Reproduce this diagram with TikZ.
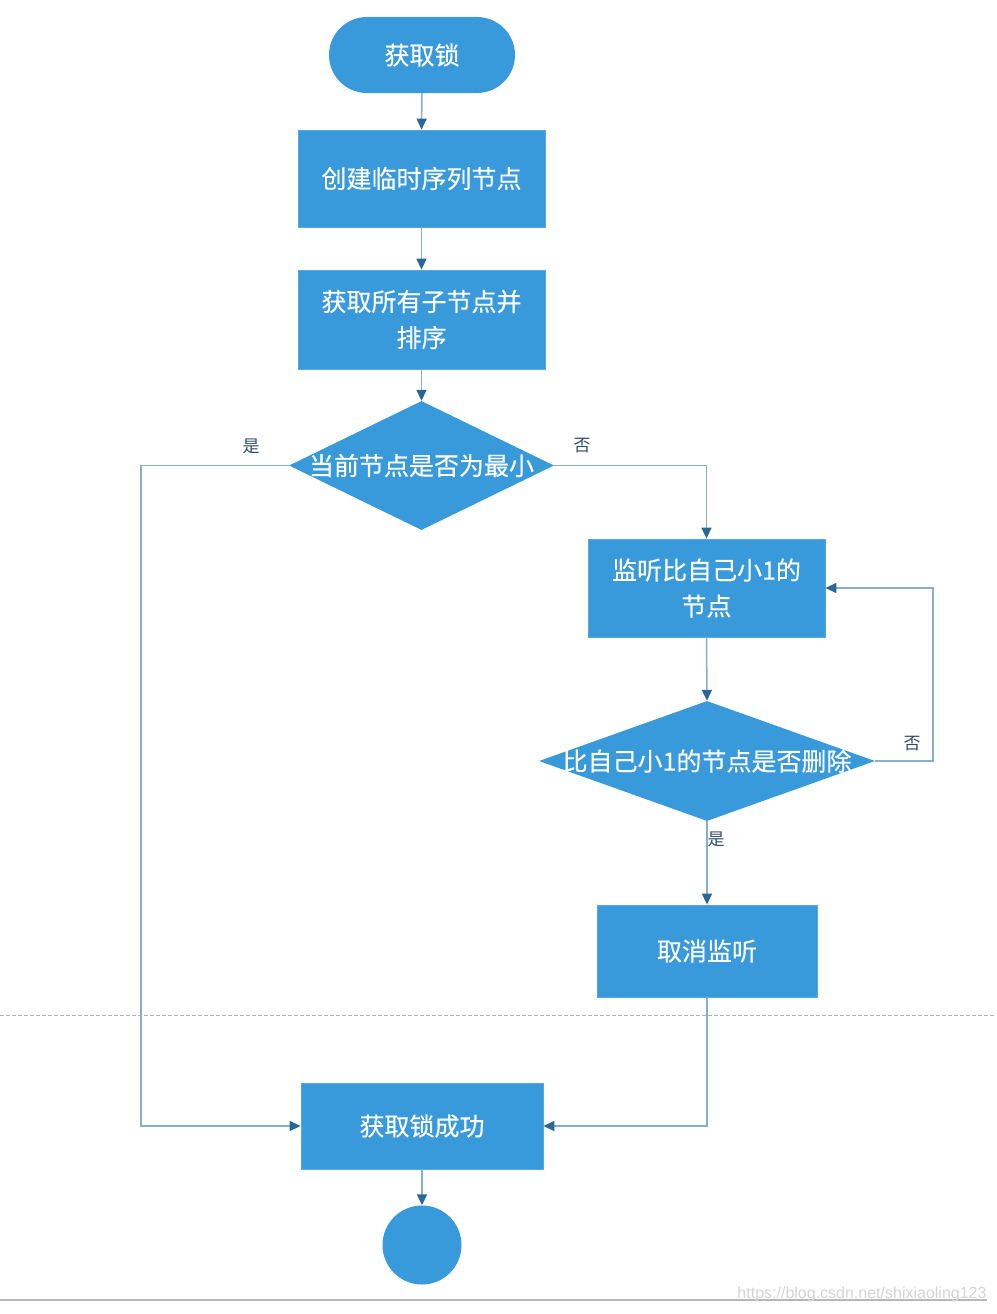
\documentclass[tikz,border=0pt]{standalone}
\usepackage{fontspec}
\newfontfamily\cjk{Noto Sans CJK SC}
\newfontfamily\cjkb[FakeBold=0.35]{Noto Sans CJK SC}
\newfontfamily\wmfont{Liberation Sans}
\usetikzlibrary{arrows.meta,shapes.geometric}
\definecolor{boxfill}{HTML}{3899DB}
\definecolor{linec}{HTML}{86AECF}
\definecolor{arrowc}{HTML}{2A6799}
\definecolor{labc}{HTML}{2E4B66}
\tikzset{
  stepbox/.style={rectangle, fill=boxfill, draw=boxfill!85!white, line width=0.8pt, inner sep=0pt, text=white, font=\cjkb\fontsize{25}{36}\selectfont, align=center},
  termbox/.style={rectangle, rounded corners=38pt, fill=boxfill, draw=none, inner sep=0pt, text=white, font=\cjkb\fontsize{25}{36}\selectfont, minimum width=186pt, minimum height=76pt},
  decbox/.style={diamond, fill=boxfill, draw=none, inner sep=0pt},
  dectext/.style={text=white, font=\cjkb\fontsize{25}{36}\selectfont, inner sep=0pt},
  conn/.style={draw=linec, line width=1.5pt, -{Triangle[length=11pt,width=10pt,color=arrowc]}},
  lab/.style={text=labc, font=\cjk\fontsize{17}{20}\selectfont, inner sep=0pt},
}
\begin{document}
\begin{tikzpicture}[x=1pt,y=-1pt]
\useasboundingbox (0,0) rectangle (996,1314);
% separators
\draw[draw=black!30, line width=1pt, dash pattern=on 4pt off 2pt] (0,1015) -- (996,1015);
\draw[draw=black!28, line width=1.5pt] (0,1300) -- (987,1300);
\node[text=black!17, font=\wmfont\fontsize{16}{18}\selectfont, inner sep=0pt] (wm) at (862,1294) {https://blog.csdn.net/shixiaoling123};

% nodes
\node[termbox] (start) at (422,55) {获取锁};
\node[stepbox, minimum width=247pt, minimum height=97pt] (b1) at (421.5,178.5) {创建临时序列节点};
\node[stepbox, minimum width=247pt, minimum height=99pt] (b2) at (421.5,319.5) {获取所有子节点并\\排序};
\node[decbox, minimum width=265pt, minimum height=129pt] (d1) at (421.5,465.5) {};
\node[dectext] (d1t) at (d1.center) {当前节点是否为最小};
\node[stepbox, minimum width=237pt, minimum height=98pt] (b3) at (706.5,588) {监听比自己小1的\\节点};
\node[decbox, minimum width=336pt, minimum height=120pt] (d2) at (707,761) {};
\node[dectext] (d2t) at (d2.center) {比自己小1的节点是否删除};
\node[stepbox, minimum width=220pt, minimum height=92pt] (b4) at (707,951) {取消监听};
\node[stepbox, minimum width=242pt, minimum height=86pt] (fin) at (422,1126) {获取锁成功};
\node[circle, fill=boxfill, draw=none, minimum size=79pt, inner sep=0pt] (end) at (422,1245) {};

% connectors
\draw[conn] (start.south) -- (b1.north);
\draw[conn] (b1.south) -- (b2.north);
\draw[conn] (b2.south) -- (d1.north);
\coordinate (cl) at (141,465.5);
\draw[conn] (d1.west) -- (cl) |- (fin.west);
\draw[conn] (d1.east) -| (b3.north);
\draw[conn] (b3.south) -- (d2.north);
\coordinate (cr) at (933,761);
\draw[conn] (d2.east) -- (cr) |- (b3.east);
\draw[conn] (d2.south) -- (b4.north);
\draw[conn] (b4.south) |- (fin.east);
\draw[conn] (fin.south) -- (end.north);

% labels
\node[lab] (l1) at (251,446) {是};
\node[lab] (l2) at (582,446) {否};
\node[lab] (l3) at (912,744) {否};
\node[lab] (l4) at (716,839) {是};
\end{tikzpicture}
\end{document}
